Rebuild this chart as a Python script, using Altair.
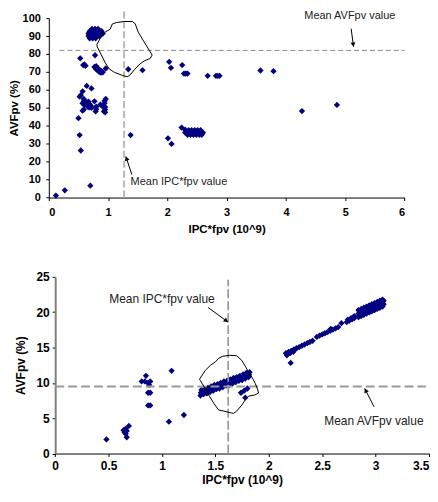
import math
import altair as alt
import pandas as pd

FONT = "Liberation Sans"
NAVY = "#000080"

# ---------------- upper panel data ----------------
TOP_XTICKS = [0, 1, 2, 3, 4, 5, 6]
TOP_YTICKS = [0, 10, 20, 30, 40, 50, 60, 70, 80, 90, 100]

TOP_LEFT_POINTS = [
    (0.12, 1.1), (0.27, 4.0), (0.70, 6.6), (0.54, 26.2), (0.52, 34.8), (0.50, 44.2),
    (0.57, 48.4), (0.59, 49.0), (0.60, 51.6), (0.62, 52.6), (0.64, 53.2), (0.65, 51.6),
    (0.66, 50.6), (0.68, 50.2), (0.69, 52.0), (0.71, 51.0), (0.72, 50.0), (0.67, 53.4),
    (0.59, 53.6), (0.57, 52.5), (0.59, 54.9),
    (0.77, 53.6), (0.80, 50.6), (0.80, 49.2), (0.79, 48.0),
    (0.87, 51.8), (0.90, 51.0), (0.94, 53.8), (0.96, 54.9), (0.94, 52.5), (0.95, 50.5),
    (0.95, 49.0), (0.95, 47.5), (0.93, 48.0),
    (0.52, 56.2), (0.54, 57.0), (0.57, 59.2), (0.64, 62.2), (0.72, 60.8),
    (0.53, 77.6), (0.78, 79.3), (0.58, 73.8), (0.60, 74.2), (0.62, 73.4), (0.77, 72.8),
    (0.80, 73.2), (0.79, 71.8), (0.83, 72.0), (0.82, 71.0), (0.86, 70.8), (0.85, 70.0),
    (0.89, 70.4), (0.88, 69.6), (0.91, 69.8), (0.96, 71.9),
]
TOP_BLOB_HIGH = [
    (0.73, 94.0), (0.78, 94.0), (0.83, 94.0),
    (0.69, 92.7), (0.74, 92.7), (0.79, 92.7), (0.84, 92.7), (0.89, 92.7),
    (0.67, 91.4), (0.72, 91.4), (0.77, 91.4), (0.82, 91.4), (0.87, 91.4), (0.91, 91.4),
    (0.67, 90.0), (0.72, 90.0), (0.77, 90.0), (0.82, 90.0), (0.86, 90.0),
    (0.69, 88.7), (0.74, 88.7), (0.79, 88.7),
]
TOP_MID_POINTS = [
    (1.34, 71.5), (1.58, 71.0), (1.38, 34.8), (2.01, 33.0), (2.07, 29.9), (2.03, 75.6),
    (2.06, 72.3), (2.25, 73.8), (2.28, 69.1), (2.31, 69.1), (2.34, 69.1), (2.24, 39.0),
    (2.68, 67.8), (2.82, 67.8), (2.85, 67.8), (2.88, 67.8), (3.57, 70.8), (3.79, 70.4),
    (4.27, 48.2), (4.86, 51.6),
]
TOP_BLOB_LOW = [
    (2.30, 37.8), (2.36, 37.5), (2.41, 37.5), (2.46, 37.5), (2.51, 37.5), (2.56, 37.5),
    (2.30, 36.2), (2.35, 36.2), (2.40, 36.2), (2.45, 36.2), (2.50, 36.2), (2.55, 36.2), (2.60, 36.2),
    (2.34, 35.0), (2.39, 35.0), (2.44, 35.0), (2.49, 35.0), (2.54, 35.0), (2.58, 35.0),
]
TOP_OUTLINE = [
    (0.953, 92.2), (1.037, 93.9), (1.071, 96.7), (1.138, 97.5), (1.272, 98.1), (1.407, 98.1),
    (1.457, 96.9), (1.508, 92.2), (1.608, 86.7), (1.692, 82.2), (1.743, 79.4), (1.709, 77.5),
    (1.608, 76.1), (1.541, 74.5), (1.440, 71.1), (1.373, 68.4), (1.323, 67.3), (1.239, 68.1),
    (1.104, 69.8), (1.020, 71.7), (0.953, 75.0), (0.886, 79.5), (0.818, 83.9), (0.810, 85.3),
    (0.852, 87.8), (0.886, 90.0), (0.953, 92.2),
]
TOP_MEAN_H = [(0.18, 82.0, 6.0, 82.0)]
TOP_MEAN_V = [(1.27, 0.0, 1.27, 104.0)]
TOP_NOTES = [("Mean AVFpv value", 4.31, 101.4), ("Mean IPC*fpv value", 1.38, 8.5)]
TOP_ARROWS = [(5.10, 94.1, 5.14, 84.0), (1.40, 12.8, 1.30, 22.9)]

# ---------------- lower panel data ----------------
BOT_XTICKS = [0, 0.5, 1, 1.5, 2, 2.5, 3, 3.5]
BOT_YTICKS = [0, 5, 10, 15, 20, 25]

BOT_LEFT_POINTS = [
    (0.48, 2.0), (0.64, 3.3), (0.65, 3.0), (0.66, 3.5), (0.67, 3.2), (0.69, 3.9), (0.66, 2.8),
    (0.67, 2.3), (0.85, 11.0), (0.81, 10.2), (0.84, 10.2), (0.87, 10.0), (0.89, 10.2),
    (0.88, 9.7), (0.87, 8.6), (0.89, 8.6), (0.87, 6.8), (0.89, 6.8), (1.09, 11.7),
    (1.065, 4.5), (1.205, 5.45),
]
BOT_BAND_UPPER = [
    (1.37, 9.0), (1.40, 9.1), (1.43, 9.3), (1.46, 9.5), (1.49, 9.7), (1.52, 9.8), (1.55, 10.0),
    (1.58, 10.2), (1.61, 10.3), (1.64, 10.5), (1.67, 10.7), (1.70, 10.8), (1.73, 11.0),
    (1.76, 11.2), (1.79, 11.4), (1.82, 11.5),
]
BOT_BAND_MID = [
    (1.365, 8.6), (1.395, 8.8), (1.425, 8.9), (1.455, 9.1), (1.485, 9.3), (1.515, 9.4),
    (1.545, 9.6), (1.575, 9.8), (1.605, 9.95), (1.635, 10.1), (1.665, 10.3), (1.695, 10.5),
    (1.725, 10.6), (1.755, 10.8), (1.785, 11.0), (1.815, 11.15),
]
BOT_BAND_LOWER = [
    (1.36, 8.2), (1.39, 8.4), (1.42, 8.5), (1.45, 8.7), (1.48, 8.9), (1.51, 9.1), (1.54, 9.2),
    (1.57, 9.4), (1.60, 9.6), (1.63, 9.7), (1.66, 9.9), (1.69, 10.1), (1.72, 10.3),
    (1.75, 10.4), (1.78, 10.6), (1.81, 10.8),
]
BOT_SIDE = [(1.74, 8.6), (1.77, 8.9), (1.80, 9.2), (1.78, 7.9)]
BOT_TRAIL = [
    (2.205, 12.82),
    (2.16, 14.19), (2.185, 14.37), (2.21, 14.54), (2.235, 14.72), (2.26, 14.90), (2.285, 15.07),
    (2.31, 15.25), (2.335, 15.43), (2.36, 15.61), (2.385, 15.78), (2.41, 15.96),
    (2.17, 13.9), (2.20, 14.2), (2.23, 14.4),
    (2.45, 16.50), (2.475, 16.67), (2.50, 16.85), (2.525, 17.02), (2.55, 17.19), (2.575, 17.37),
    (2.60, 17.54), (2.625, 17.71), (2.65, 17.89), (2.58, 17.65),
    (2.68, 18.45),
    (2.73, 18.6), (2.755, 18.8), (2.78, 19.0), (2.80, 19.15), (2.74, 18.95), (2.77, 19.15), (2.80, 19.45),
]
BOT_BIG_ROWS = [
    [(2.84, 20.30), (2.865, 20.46), (2.89, 20.63), (2.915, 20.80), (2.94, 20.96),
     (2.965, 21.13), (2.99, 21.29), (3.015, 21.46), (3.04, 21.63), (3.065, 21.79)],
    [(2.85, 20.11), (2.875, 20.28), (2.90, 20.45), (2.925, 20.61), (2.95, 20.78),
     (2.975, 20.94), (3.00, 21.11), (3.025, 21.28), (3.05, 21.44), (3.075, 21.61)],
    [(2.84, 19.80), (2.865, 19.96), (2.89, 20.13), (2.915, 20.30), (2.94, 20.46),
     (2.965, 20.63), (2.99, 20.79), (3.015, 20.96), (3.04, 21.13), (3.065, 21.29)],
    [(2.85, 19.61), (2.875, 19.78), (2.90, 19.95), (2.925, 20.11), (2.95, 20.28),
     (2.975, 20.44), (3.00, 20.61), (3.025, 20.78), (3.05, 20.94), (3.075, 21.11)],
    [(2.84, 19.30), (2.865, 19.46), (2.89, 19.63), (2.915, 19.80), (2.94, 19.96),
     (2.965, 20.13), (2.99, 20.29), (3.015, 20.46), (3.04, 20.63), (3.065, 20.79)],
]
BOT_OUTLINE = [
    (1.351, 10.52), (1.407, 11.79), (1.454, 12.49), (1.500, 12.96), (1.531, 13.48), (1.569, 13.76),
    (1.634, 13.90), (1.699, 13.83), (1.746, 13.20), (1.780, 12.35), (1.811, 11.51), (1.843, 10.80),
    (1.873, 9.92), (1.895, 9.11), (1.904, 8.55), (1.867, 8.27), (1.811, 8.13), (1.780, 7.63),
    (1.748, 6.86), (1.699, 6.01), (1.671, 5.69), (1.640, 5.77), (1.578, 6.01), (1.531, 6.15),
    (1.485, 7.10), (1.438, 8.27), (1.391, 9.54), (1.351, 10.52),
]
BOT_MEAN_H = [(0.0, 9.5, 3.47, 9.5)]
BOT_MEAN_V = [(1.62, 0.0, 1.62, 24.6)]
BOT_NOTES = [("Mean IPC*fpv value", 0.506, 21.9), ("Mean AVFpv value", 2.519, 4.6)]
BOT_ARROWS = [(1.432, 20.66, 1.618, 18.6), (2.985, 6.62, 2.898, 9.21)]

# ---------------- layout ----------------
TOP_W, TOP_H = 357.4, 180.3
BOT_X0, BOT_X1 = 6.4, 382.0
BOT_W, BOT_H = 382.0, 177.5
HEAD_SIZE = 25


def pts_df(*groups):
    rows = [p for g in groups for p in g]
    return pd.DataFrame(rows, columns=["x", "y"])


def seg_df(rows):
    return pd.DataFrame(rows, columns=["x", "y", "x2", "y2"])


def outline_df(rows):
    return pd.DataFrame([(i, x, y) for i, (x, y) in enumerate(rows)], columns=["i", "x", "y"])


def heads_df(arrows, kx, ky):
    back = math.sqrt(HEAD_SIZE) / 2 * math.sqrt(3) / 2
    out = []
    for x1, y1, x2, y2 in arrows:
        dxp = (x2 - x1) * kx
        dyp = -(y2 - y1) * ky
        L = math.hypot(dxp, dyp)
        ux, uy = dxp / L, dyp / L
        ang = math.degrees(math.atan2(ux, -uy)) % 360
        out.append((x2 - ux * back / kx, y2 + uy * back / ky, ang))
    return pd.DataFrame(out, columns=["x", "y", "ang"])


AX = dict(labelFont=FONT, titleFont=FONT, labelFontWeight="bold", titleFontWeight="bold",
          labelColor="black", titleColor="black", tickColor="black", grid=False, tickSize=3)


def panel(xs, ys, xaxis, yaxis, points, outline, mean_h, mean_v, h_style, v_style,
          notes, note_size, arrows, kx, ky, w, h):
    def X(f="x"):
        return alt.X(f"{f}:Q", scale=xs, axis=xaxis)

    def Y(f="y"):
        return alt.Y(f"{f}:Q", scale=ys, axis=yaxis)

    base_pts = alt.Chart(points).mark_point(shape="diamond", filled=True, size=40,
                                            color=NAVY, opacity=1).encode(x=X(), y=Y())
    mh = alt.Chart(seg_df(mean_h)).mark_rule(**h_style).encode(x=X(), x2="x2:Q", y=Y(), y2="y2:Q")
    mv = alt.Chart(seg_df(mean_v)).mark_rule(**v_style).encode(x=X(), x2="x2:Q", y=Y(), y2="y2:Q")
    ol = alt.Chart(outline_df(outline)).mark_line(color="black", strokeWidth=1).encode(
        x=X(), y=Y(), order="i:Q")
    ar = alt.Chart(seg_df(arrows)).mark_rule(color="black", strokeWidth=1).encode(
        x=X(), x2="x2:Q", y=Y(), y2="y2:Q")
    hd = alt.Chart(heads_df(arrows, kx, ky)).mark_point(
        shape="triangle-up", filled=True, size=HEAD_SIZE, color="black", opacity=1).encode(
        x=X(), y=Y(), angle=alt.Angle("ang:Q", scale=None))
    tx = alt.Chart(pd.DataFrame(notes, columns=["t", "x", "y"])).mark_text(
        align="left", baseline="middle", font=FONT, fontSize=note_size, color="#222").encode(
        x=X(), y=Y(), text="t:N")
    return alt.layer(base_pts, mh, mv, ol, ar, hd, tx).properties(width=w, height=h)


# upper panel
xs_top = alt.Scale(domain=[0, 6], nice=False, zero=False)
ys_top = alt.Scale(domain=[0, 100], nice=False, zero=False)
top = panel(
    xs_top, ys_top,
    alt.Axis(title="IPC*fpv (10^9)", values=TOP_XTICKS, format="d", labelFontSize=11,
             titleFontSize=11.5, labelPadding=6, titlePadding=6, domainColor="black", **AX),
    alt.Axis(title="AVFpv (%)", values=TOP_YTICKS, format="d", labelFontSize=11,
             titleFontSize=11.5, labelPadding=5.5, titlePadding=3, domainColor="black", **AX),
    pts_df(TOP_LEFT_POINTS, TOP_BLOB_HIGH, TOP_MID_POINTS, TOP_BLOB_LOW),
    TOP_OUTLINE, TOP_MEAN_H, TOP_MEAN_V,
    dict(color="#8c8c8c", strokeWidth=1, strokeDash=[5, 3]),
    dict(color="#b8b8b8", strokeWidth=2, strokeDash=[7, 3]),
    TOP_NOTES, 11, TOP_ARROWS, TOP_W / 6, TOP_H / 100, TOP_W, TOP_H,
)

# lower panel
xs_bot = alt.Scale(domain=[0, 3.5], range=[BOT_X0, BOT_X1], nice=False, zero=False)
ys_bot = alt.Scale(domain=[0, 25], nice=False, zero=False)
bottom = panel(
    xs_bot, ys_bot,
    alt.Axis(title="IPC*fpv (10^9)", values=BOT_XTICKS, format="~g", labelFontSize=12,
             titleFontSize=12, labelPadding=4, titlePadding=3, domainColor="black",
             labelAlign={"condition": {"test": "datum.value >= 3.5", "value": "right"}, "value": "center"},
             **AX),
    alt.Axis(title="AVFpv (%)", values=BOT_YTICKS, format="d", labelFontSize=12,
             titleFontSize=12, labelPadding=3, titlePadding=8, offset=-BOT_X0,
             domainColor="#808080", domainWidth=2, **AX),
    pts_df(BOT_LEFT_POINTS, BOT_BAND_UPPER, BOT_BAND_MID, BOT_BAND_LOWER, BOT_SIDE, BOT_TRAIL,
           *BOT_BIG_ROWS),
    BOT_OUTLINE, BOT_MEAN_H, BOT_MEAN_V,
    dict(color="#999999", strokeWidth=2, strokeDash=[9, 4]),
    dict(color="#999999", strokeWidth=1.7, strokeDash=[9, 3]),
    BOT_NOTES, 12, BOT_ARROWS, (BOT_X1 - BOT_X0) / 3.5, BOT_H / 25, BOT_W, BOT_H,
)

chart = alt.vconcat(top, bottom, spacing=36).properties(
    padding={"left": 0, "top": 0, "right": 0, "bottom": 0}
).configure(background="white").configure_view(stroke=None)

chart.save("out.html", embed_options={"renderer": "svg", "actions": False})
